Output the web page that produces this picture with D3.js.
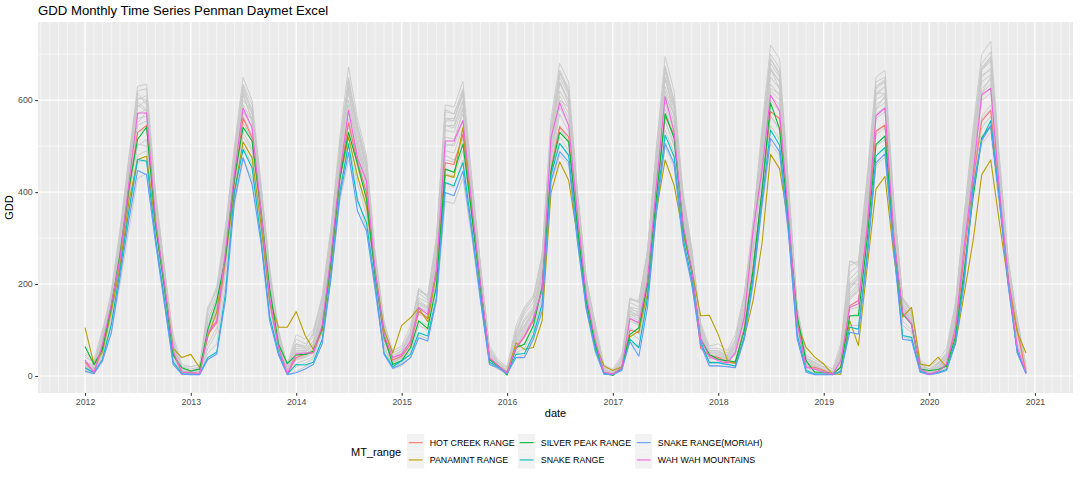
<!DOCTYPE html>
<html><head><meta charset="utf-8">
<script src="https://cdn.jsdelivr.net/npm/d3@7"></script>
<style>
body{margin:0;background:#fff}
svg{display:block;font-family:"Liberation Sans",Arial,Helvetica,sans-serif}
</style>
</head><body>
<svg id="c" width="1080" height="480"></svg>
<script>
// ---------- DATA ----------
const months = d3.utcMonth.range(new Date(Date.UTC(2012,0,1)), new Date(Date.UTC(2021,0,1)));
const rangeNames = ["HOT CREEK RANGE","PANAMINT RANGE","SILVER PEAK RANGE","SNAKE RANGE","SNAKE RANGE(MORIAH)","WAH WAH MOUNTAINS"];
const rangeColors = ["#F8766D","#B79F00","#00BA38","#00BFC4","#619CFF","#F564E3"];
const yTicks = [0,200,400,600];
const yMinor = [100,300,500,700];

const hotCreek = [
 30,8,62,149,246,400,530,545,335,200,50,8,
 8,5,90,116,250,420,561,518,350,160,62,5,
 40,48,50,100,240,430,551,465,400,222,80,35,
 43,69,141,125,230,464,460,526,360,195,38,22,
 6,60,85,120,190,449,542,520,330,165,70,8,
 4,18,100,94,200,390,564,525,325,225,60,45,
 40,30,28,105,235,400,575,560,330,120,19,19,
 12,4,20,153,164,320,533,546,300,135,113,15,
 4,10,24,95,260,425,555,577,385,210,99,8];
const panamint = [
 105,25,51,141,235,380,471,478,325,200,60,40,
 47,18,85,140,260,400,509,475,330,165,106,106,
 140,88,58,100,240,430,520,435,370,230,100,50,
 110,127,148,118,220,437,432,541,350,195,38,22,
 8,72,58,62,120,399,466,426,300,165,70,22,
 12,20,85,98,180,359,470,415,310,232,131,132,
 90,35,28,83,163,286,482,451,330,113,62,41,
 26,4,4,120,66,240,407,434,260,128,149,26,
 22,41,19,70,178,294,438,470,330,200,95,50];
const silverPeak = [
 64,25,58,152,265,410,515,541,330,195,45,18,
 11,15,101,163,257,430,541,511,360,190,69,27,
 46,47,54,105,250,430,530,461,385,220,88,25,
 33,62,120,103,195,450,443,505,350,192,35,22,
 2,62,69,110,192,446,530,509,320,163,69,6,
 1,18,90,105,200,390,571,517,322,228,80,47,
 36,33,31,98,228,402,594,538,335,131,33,8,
 8,4,19,131,131,300,504,522,290,135,113,15,
 12,14,22,84,229,388,519,544,380,205,51,8];
const snakeRange = [
 18,7,36,112,228,360,471,467,300,170,30,5,
 4,4,40,52,180,400,493,453,300,130,50,4,
 25,24,30,80,220,400,505,381,334,200,50,20,
 33,47,94,87,170,421,414,464,320,170,30,20,
 6,47,49,90,156,438,506,480,300,150,60,5,
 4,15,80,62,170,370,524,477,300,210,75,29,
 29,25,22,85,210,380,535,502,320,91,12,4,
 4,4,10,106,102,270,479,497,280,88,84,10,
 4,8,14,75,214,410,515,555,380,200,55,6];
const snakeMoriah = [
 11,5,33,94,214,340,447,438,290,160,25,4,
 3,3,36,48,165,380,475,417,290,120,45,3,
 7,15,25,70,210,390,486,359,316,190,47,17,
 25,40,83,76,165,399,392,446,310,165,25,18,
 5,40,40,80,141,424,488,466,290,145,55,4,
 3,12,75,43,149,360,506,462,290,200,69,22,
 22,20,18,80,200,370,517,488,310,80,8,3,
 3,3,8,95,91,260,464,483,270,80,77,8,
 3,6,12,70,200,403,512,544,375,195,50,5];
const wahWah = [
 35,7,69,156,257,420,572,572,340,205,55,8,
 7,5,94,120,270,440,583,540,360,170,62,5,
 48,50,51,110,260,440,578,475,425,230,90,40,
 47,76,149,134,228,511,511,556,370,200,40,22,
 7,62,87,125,185,518,594,545,350,175,78,8,
 4,18,125,116,207,417,608,530,330,230,80,43,
 33,28,51,127,315,446,611,577,350,113,19,15,
 8,4,33,149,157,330,566,583,300,138,113,15,
 4,10,26,106,280,439,612,626,400,210,62,8];

// other mountain ranges (grey background lines)
const grey01 = [
 40,30,90,180,310,480,630,635,400,240,80,20,
 15,20,140,190,320,500,650,600,420,230,100,20,
 80,70,90,170,320,520,672,560,480,270,120,50,
 60,100,190,170,300,590,585,641,430,240,60,30,
 15,100,145,170,260,560,680,640,400,210,110,20,
 10,40,170,160,270,500,695,620,400,280,110,60,
 60,50,80,170,330,540,720,690,420,150,40,30,
 20,10,60,240,250,440,650,665,380,170,140,30,
 15,30,50,150,350,540,700,728,470,250,120,20];
const grey02 = [
 30,25,85,170,300,470,620,625,390,235,75,15,
 12,18,130,180,310,490,635,590,410,225,90,15,
 70,65,85,160,310,505,650,545,465,260,110,45,
 55,95,180,165,290,575,570,625,420,235,55,28,
 12,95,135,160,250,545,665,625,390,205,100,18,
 8,35,160,150,260,490,675,600,390,270,105,55,
 55,45,75,160,320,525,700,670,410,145,38,28,
 18,8,55,225,240,425,640,650,370,165,135,28,
 12,28,45,140,340,525,680,705,460,245,115,18];
const grey03 = [
 25,20,80,165,290,455,605,600,380,225,70,12,
 10,15,120,170,300,475,620,570,400,215,85,12,
 60,58,75,150,300,490,630,530,450,250,105,40,
 50,90,170,160,280,560,560,610,410,225,50,25,
 10,90,125,150,240,530,650,610,380,200,95,15,
 6,30,150,145,250,475,660,590,380,265,100,50,
 50,40,70,150,310,510,680,650,400,140,35,25,
 15,6,50,210,230,410,625,640,360,160,130,25,
 10,25,42,135,330,510,665,685,450,240,110,15];
const grey04 = [
 20,18,70,160,280,445,585,600,370,220,65,10,
 8,12,110,160,290,460,600,575,390,210,80,10,
 55,55,70,140,290,475,615,520,440,245,100,38,
 48,85,160,150,270,545,545,600,400,220,48,24,
 9,85,120,145,230,515,635,600,370,195,90,14,
 5,28,145,140,240,460,645,580,370,255,95,48,
 48,38,65,145,300,495,665,640,390,135,32,22,
 14,5,45,200,220,400,610,630,350,155,125,22,
 9,22,40,130,320,495,650,670,440,235,105,14];
const grey05 = [
 22,15,75,155,270,430,570,580,365,215,62,10,
 9,10,105,150,280,450,590,555,380,200,78,9,
 50,52,65,135,280,460,600,505,430,240,95,35,
 45,80,155,145,260,535,530,585,390,215,45,22,
 8,80,110,140,220,500,620,585,360,190,88,12,
 5,25,140,130,235,450,630,565,360,250,92,45,
 45,36,60,140,290,480,650,625,380,130,30,20,
 12,5,42,190,210,390,600,615,345,150,120,20,
 8,20,38,125,310,485,640,655,430,230,100,12];
const grey06 = [
 18,14,65,150,265,425,560,565,360,210,60,8,
 7,9,100,145,270,440,575,540,370,195,72,8,
 45,48,60,130,270,450,590,495,420,235,92,32,
 42,78,150,140,250,520,515,570,380,210,42,20,
 7,75,105,135,215,490,610,570,350,185,85,10,
 4,22,135,125,225,440,620,550,350,245,90,42,
 42,34,55,135,280,470,635,610,370,128,28,18,
 10,4,40,180,200,380,590,605,335,148,118,18,
 7,18,35,120,300,475,625,645,425,225,98,10];
const grey07 = [
 25,12,60,145,255,415,545,555,355,205,55,8,
 6,8,95,140,265,430,565,525,365,190,70,7,
 40,45,58,125,265,440,575,485,410,230,90,30,
 40,75,145,135,245,505,500,555,375,205,40,18,
 6,70,100,130,210,480,600,560,345,180,82,9,
 4,20,130,120,220,430,605,540,345,240,88,40,
 40,32,50,130,275,460,620,600,365,125,26,16,
 9,4,38,175,195,370,580,595,330,145,115,16,
 6,16,32,115,295,465,615,635,420,220,95,9];
const grey08 = [
 15,10,50,130,240,390,500,515,330,190,45,6,
 5,6,85,125,250,410,530,495,340,175,60,6,
 35,40,50,115,250,420,545,455,390,215,80,25,
 35,65,135,125,230,470,465,520,355,195,35,16,
 5,62,90,120,200,455,570,530,330,170,75,8,
 3,18,120,110,210,410,580,520,330,230,82,38,
 36,30,45,120,265,440,600,575,350,120,24,14,
 8,3,35,165,185,350,560,575,315,140,110,14,
 5,14,28,110,285,450,600,615,410,215,90,8];
const grey09 = [
 10,5,30,95,200,320,430,440,290,160,25,3,
 3,3,50,70,200,370,470,430,300,130,45,3,
 10,20,30,80,210,380,470,390,320,185,50,15,
 22,40,90,80,160,380,375,430,300,160,25,15,
 4,40,45,85,150,420,480,460,285,145,50,4,
 3,12,75,60,160,350,500,455,285,200,65,22,
 22,20,20,85,200,365,505,480,305,85,10,3,
 3,3,12,110,110,280,460,475,270,85,80,8,
 3,6,14,75,205,400,505,530,365,190,50,5];
const grey10 = [
 50,35,100,175,290,450,590,575,385,230,90,25,
 20,25,150,185,305,470,610,560,395,220,95,25,
 90,80,100,165,300,480,630,540,455,255,115,55,
 65,110,185,175,285,560,555,615,415,230,65,35,
 20,110,150,175,255,530,640,600,390,210,115,25,
 15,45,165,165,270,480,650,585,390,270,115,65,
 70,55,90,180,320,510,670,640,405,150,45,35,
 25,15,70,250,240,420,615,630,365,170,145,35,
 20,35,60,160,340,510,665,690,450,245,125,25];
const grey11 = [
 12,8,60,150,280,450,600,610,380,215,55,6,
 5,6,100,150,285,465,625,580,395,200,70,6,
 40,45,60,130,285,480,645,535,455,240,90,30,
 40,75,150,140,265,555,555,620,410,215,40,18,
 5,75,105,140,225,520,660,620,380,190,85,8,
 3,20,135,130,235,470,670,600,380,250,90,40,
 40,30,55,135,300,505,690,660,395,130,25,15,
 8,3,40,190,215,405,630,645,355,150,120,18,
 6,18,32,125,320,500,670,695,445,230,100,8];
const grey12 = [
 20,12,55,140,250,405,530,540,345,200,50,7,
 6,7,90,135,258,420,550,515,355,185,65,7,
 38,42,55,120,258,430,560,475,400,225,85,28,
 38,70,140,130,240,490,485,540,365,200,38,17,
 6,66,95,125,205,470,585,545,340,175,78,9,
 4,19,125,115,215,420,595,530,340,235,85,39,
 38,31,48,125,270,450,610,590,360,122,25,15,
 9,4,36,170,190,360,570,585,322,142,112,15,
 6,15,30,112,290,458,608,625,415,218,92,8];
const grey13 = [
 45,30,80,160,260,410,505,500,360,215,70,20,
 20,25,120,170,275,430,520,490,370,205,85,25,
 70,60,75,140,270,440,530,470,420,240,100,40,
 55,90,165,150,250,480,470,515,375,210,55,30,
 18,85,120,145,215,460,545,510,345,185,90,20,
 12,35,150,135,225,410,555,505,345,245,100,55,
 55,45,65,140,270,430,565,540,360,135,40,30,
 20,10,55,200,200,350,530,545,320,150,130,25,
 15,28,45,130,280,440,560,580,410,225,105,20];
const grey14 = [
 8,5,40,110,215,350,465,470,310,175,35,4,
 3,4,60,95,225,385,500,460,320,150,50,4,
 20,28,38,95,230,400,500,420,350,200,62,18,
 28,50,110,100,190,420,410,470,330,175,28,15,
 4,50,60,100,170,430,520,490,305,155,60,5,
 3,14,95,80,180,375,535,485,305,210,72,28,
 28,24,28,100,225,390,545,515,325,100,14,6,
 4,3,20,130,135,300,500,515,290,110,95,10,
 4,8,18,85,235,415,540,565,385,200,65,6];
const grey15 = [
 28,22,95,185,320,470,615,590,395,240,75,14,
 10,18,145,195,325,485,630,575,415,235,95,14,
 65,62,95,175,320,500,640,545,470,265,112,42,
 50,95,190,175,300,580,570,615,420,240,55,26,
 10,95,140,170,265,540,660,615,395,215,105,16,
 6,35,168,160,275,495,670,595,395,275,108,52,
 52,42,78,175,335,520,690,655,410,148,36,24,
 14,6,60,250,245,425,630,640,370,168,138,26,
 10,26,48,155,350,525,670,690,455,250,118,16];
const grey16 = [
 15,10,55,135,250,420,550,575,375,220,58,7,
 6,7,95,130,255,430,570,560,385,200,72,7,
 38,42,55,120,255,435,580,510,440,245,92,30,
 38,68,140,128,235,500,505,580,395,215,42,18,
 6,66,95,122,200,475,600,585,370,190,84,9,
 4,18,125,112,210,420,610,570,365,250,90,42,
 40,32,48,122,265,455,625,615,385,132,28,16,
 9,3,35,170,185,360,580,610,345,152,118,16,
 6,15,30,110,285,455,615,650,435,228,98,9];
const grey17 = [
 22,16,72,158,285,450,595,580,360,210,62,10,
 8,10,110,155,290,465,615,555,370,195,78,9,
 52,52,68,138,290,470,625,500,420,235,95,35,
 45,82,158,148,265,545,540,595,385,205,45,22,
 8,82,112,142,228,510,640,590,355,180,86,12,
 5,26,142,132,240,460,650,565,355,240,92,44,
 45,36,62,142,295,490,668,625,375,126,30,20,
 12,5,44,195,215,400,615,615,335,145,120,20,
 8,20,38,128,315,490,655,665,425,225,100,12];
const grey18 = [
 12,8,45,120,225,365,480,490,320,180,40,5,
 4,5,70,105,235,395,510,475,330,160,55,5,
 28,34,42,105,240,410,520,435,365,205,70,20,
 30,55,120,110,205,440,435,490,340,185,32,16,
 5,55,72,108,182,440,540,505,315,160,65,6,
 3,15,105,92,190,390,555,500,315,218,76,32,
 30,26,34,108,240,410,565,535,335,108,18,10,
 6,3,26,145,150,320,525,540,300,120,100,12,
 5,10,22,95,250,430,565,590,395,205,75,7];

const colouredSeries = [hotCreek, panamint, silverPeak, snakeRange, snakeMoriah, wahWah];
const greySeries = [grey01,grey02,grey03,grey04,grey05,grey06,grey07,grey08,grey09,
                    grey10,grey11,grey12,grey13,grey14,grey15,grey16,grey17,grey18];

// ---------- LAYOUT ----------
const svg = d3.select("#c");
const P = {l:38, r:1073, t:22, b:393};
const t0 = months[0], t1 = months[months.length-1];
const span = t1 - t0;
const x = d3.scaleUtc()
  .domain([new Date(+t0 - span*0.05), new Date(+t1 + span*0.05)])
  .range([P.l, P.r]);
const y = d3.scaleLinear().domain([-37, 770]).range([P.b, P.t]);

// title
svg.append("text").attr("x", P.l).attr("y", 15)
  .attr("font-size", 13.2).attr("fill", "#000")
  .text("GDD Monthly Time Series Penman Daymet Excel");

// panel
svg.append("rect").attr("x", P.l).attr("y", P.t)
  .attr("width", P.r-P.l).attr("height", P.b-P.t).attr("fill", "#EBEBEB");

const grid = svg.append("g");
const minorMonths = d3.utcMonth.range(x.domain()[0], x.domain()[1]);
grid.selectAll(".mx").data(minorMonths).enter().append("line")
  .attr("x1", d=>x(d)).attr("x2", d=>x(d)).attr("y1", P.t).attr("y2", P.b)
  .attr("stroke", "#fff").attr("stroke-width", 0.55);
grid.selectAll(".my").data(yMinor).enter().append("line")
  .attr("x1", P.l).attr("x2", P.r).attr("y1", d=>y(d)).attr("y2", d=>y(d))
  .attr("stroke", "#fff").attr("stroke-width", 0.55);
const years = d3.utcYear.range(x.domain()[0], x.domain()[1]).filter(d=>x(d)>=P.l);
grid.selectAll(".Mx").data(years).enter().append("line")
  .attr("x1", d=>x(d)).attr("x2", d=>x(d)).attr("y1", P.t).attr("y2", P.b)
  .attr("stroke", "#fff").attr("stroke-width", 1.1);
grid.selectAll(".My").data(yTicks).enter().append("line")
  .attr("x1", P.l).attr("x2", P.r).attr("y1", d=>y(d)).attr("y2", d=>y(d))
  .attr("stroke", "#fff").attr("stroke-width", 1.1);

// lines
const line = d3.line().x((d,i)=>x(months[i])).y(d=>y(d));
svg.append("defs").append("clipPath").attr("id","pc").append("rect")
  .attr("x",P.l).attr("y",P.t).attr("width",P.r-P.l).attr("height",P.b-P.t);
const lg = svg.append("g").attr("clip-path","url(#pc)");
greySeries.forEach(s=>{
  lg.append("path").attr("d", line(s)).attr("fill","none")
    .attr("stroke","#C8C8C8").attr("stroke-width",0.9).attr("stroke-linejoin","round");
});
colouredSeries.forEach((s,k)=>{
  lg.append("path").attr("d", line(s)).attr("fill","none")
    .attr("stroke",rangeColors[k]).attr("stroke-width",1.1).attr("stroke-linejoin","round");
});

// axes
const xa = svg.append("g").attr("transform",`translate(0,${P.b})`)
  .call(d3.axisBottom(x).tickValues(years).tickFormat(d3.utcFormat("%Y")).tickSizeOuter(0).tickSize(2.74).tickPadding(3));
const ya = svg.append("g").attr("transform",`translate(${P.l},0)`)
  .call(d3.axisLeft(y).tickValues(yTicks).tickSizeOuter(0).tickSize(2.74).tickPadding(2.5));
[xa,ya].forEach(a=>{
  a.select(".domain").remove();
  a.selectAll(".tick line").attr("stroke","#333333").attr("stroke-width",1.07);
  a.selectAll(".tick text").attr("fill","#4D4D4D").attr("font-size",8.8)
    .attr("font-family","'Liberation Sans',Arial,Helvetica,sans-serif");
});

// axis titles
svg.append("text").attr("x",(P.l+P.r)/2).attr("y",417).attr("text-anchor","middle")
  .attr("font-size",11).attr("fill","#000").text("date");
svg.append("text").attr("transform",`translate(13,${(P.t+P.b)/2}) rotate(-90)`)
  .attr("text-anchor","middle").attr("font-size",11).attr("fill","#000").text("GDD");

// legend
const leg = svg.append("g");
leg.append("text").attr("x",351).attr("y",455.5).attr("font-size",11).attr("fill","#000").text("MT_range");
const colX = [407, 518, 635];
const rowY = [434, 451.3];
const keyS = 17.28;
rangeNames.forEach((n,k)=>{
  const c = Math.floor(k/2), r = k%2;
  const g = leg.append("g").attr("transform",`translate(${colX[c]},${rowY[r]})`);
  g.append("rect").attr("width",keyS).attr("height",keyS).attr("fill","#F2F2F2");
  g.append("line").attr("x1",1.7).attr("x2",keyS-1.7).attr("y1",keyS/2).attr("y2",keyS/2)
    .attr("stroke",rangeColors[k]).attr("stroke-width",1.1);
  g.append("text").attr("x",keyS+5.5).attr("y",keyS/2+3.1).attr("font-size",8.8).attr("fill","#000").text(n);
});
</script>
</body></html>
